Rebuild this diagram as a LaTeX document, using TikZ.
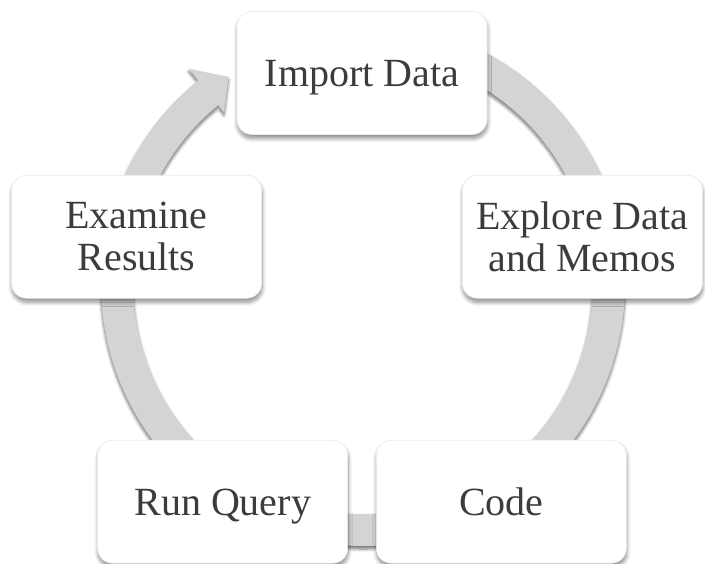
\documentclass[tikz,border=0pt]{standalone}
\usepackage{fontspec}
\setmainfont{Liberation Serif}
\usetikzlibrary{shadows.blur}
\definecolor{bandgray}{HTML}{D4D4D4}
\definecolor{textgray}{HTML}{3C3C3C}
\tikzset{
  stage/.style={rectangle, rounded corners=15pt, fill=white, draw=black!8, line width=0.6pt,
    minimum width=250pt, minimum height=123pt, align=center, text=textgray,
    font=\fontsize{40}{42}\selectfont,
    blur shadow={shadow xshift=0.5pt, shadow yshift=-4pt, shadow blur radius=4pt,
      shadow blur steps=8, shadow opacity=45}},
  oneline/.style={text height=35.6pt, text depth=8.6pt},
  band/.style={fill=bandgray, blur shadow={shadow xshift=0pt, shadow yshift=-3pt,
      shadow blur radius=3pt, shadow blur steps=6, shadow opacity=55}}
}
\begin{document}
\begin{tikzpicture}[x=1pt,y=1pt]
  \clip (0,0) rectangle (705,564);
  % circular arrow behind the stages
  \begin{scope}[shift={(363,280)}]
    \fill[band] (80:262) arc[start angle=80, end angle=-231, radius=262]
      -- (-231:277) -- (-237:247) -- (-231:221) -- (-231:230)
      arc[start angle=-231, end angle=80, radius=230] -- cycle;
  \end{scope}
  % the five stages
  \begin{scope}[shift={(362,254)}]
    \draw
      (90:237) node[stage, oneline] (imp) {Import Data}
      (18:237) node[stage, xshift=-5pt, minimum width=240pt] (expl) {Explore Data\\and Memos}
      (-54:237) node[stage, oneline] (code) {Code}
      (-126:237) node[stage, oneline] (run) {Run Query}
      (162:237) node[stage] (exam) {Examine\\Results};
  \end{scope}
\end{tikzpicture}
\end{document}
